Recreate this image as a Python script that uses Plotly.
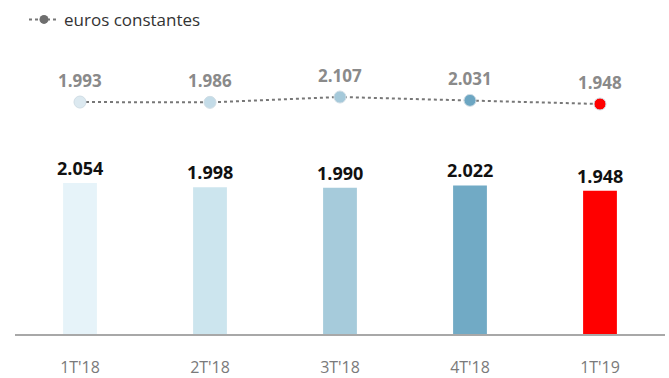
import plotly.graph_objects as go

categories = ["1T'18", "2T'18", "3T'18", "4T'18", "1T'19"]
bar_values = [2054, 1998, 1990, 2022, 1948]
line_values = [1993, 1986, 2107, 2031, 1948]
bar_colors = ["#e6f3f9", "#cce5ee", "#a6cbdb", "#71aac5", "#ff0000"]
dot_colors = ["#dce9f0", "#c4dce8", "#a5c9da", "#6ca6c2", "#ff0000"]
legend_name = "euros constantes"

FONT = "Open Sans, Noto Sans, sans-serif"

fig = go.Figure()

fig.add_trace(go.Bar(
    x=categories, y=bar_values,
    marker=dict(color=bar_colors, line=dict(width=0)),
    showlegend=False, hoverinfo="skip",
))

fig.add_trace(go.Scatter(
    x=categories, y=line_values, yaxis="y2", mode="lines+markers",
    line=dict(color="#777777", width=2, dash="dot"),
    marker=dict(size=12, color=dot_colors, line=dict(color="#d0dde5", width=1)),
    cliponaxis=False, showlegend=False, hoverinfo="skip",
))

fig.add_trace(go.Scatter(
    x=[None], y=[None], yaxis="y2", mode="lines+markers", name=legend_name,
    line=dict(color="#777777", width=2, dash="dot"),
    marker=dict(size=9, color="#6e6e6e"),
))

annotations = []
for c, v in zip(categories, bar_values):
    annotations.append(dict(x=c, y=v, xref="x", yref="y", text=f"{v:,}".replace(",", "."),
                            showarrow=False, yanchor="middle", yshift=15,
                            font=dict(family=FONT, size=18, color="#111111", weight="bold")))
for c, v in zip(categories, line_values):
    annotations.append(dict(x=c, y=v, xref="x", yref="y2", text=f"{v:,}".replace(",", "."),
                            showarrow=False, yanchor="middle", yshift=22,
                            font=dict(family=FONT, size=17, color="#8a8a8a", weight="bold")))

fig.update_layout(
    width=669, height=378,
    margin=dict(l=15, r=4, t=40, b=44),
    paper_bgcolor="white", plot_bgcolor="white",
    separators=",.",
    bargap=0.74,
    font=dict(family=FONT, color="#333333"),
    showlegend=True,
    annotations=annotations,
    legend=dict(x=24 / 669, y=0.995, xref="container", yref="container", xanchor="left", yanchor="top",
                orientation="h", font=dict(family=FONT, size=17, color="#333333"),
                bgcolor="rgba(0,0,0,0)"),
    xaxis=dict(range=[-0.5, 4.5], showgrid=False, zeroline=False,
               showline=True, linecolor="#a8a8a8", linewidth=2,
               ticks="outside", ticklen=18, tickcolor="rgba(0,0,0,0)",
               tickfont=dict(family=FONT, size=16, color="#7a7a7a"), automargin=False),
    yaxis=dict(range=[0, 4000], visible=False, showgrid=False, zeroline=False),
    yaxis2=dict(range=[-3279, 3403], overlaying="y", visible=False, showgrid=False, zeroline=False),
)

fig.write_html("out.html", config={"displayModeBar": False},
               post_script="document.body.style.margin='0';document.body.style.padding='0';")
